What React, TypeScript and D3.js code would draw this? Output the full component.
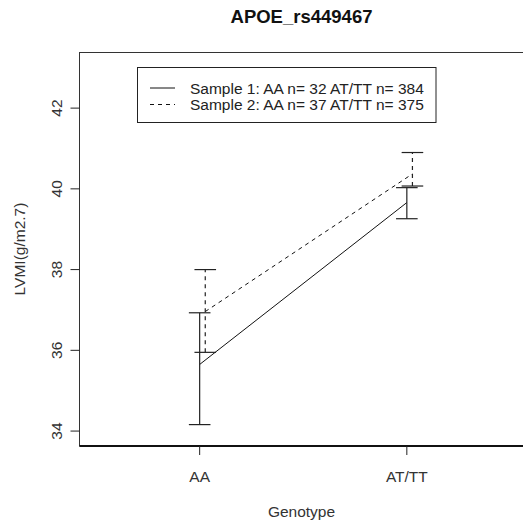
import React from "react";
import * as d3 from "d3";

const categories = ["AA", "AT/TT"];
const sample1Mean = [35.65, 39.66];
const sample1Lower = [34.16, 39.26];
const sample1Upper = [36.93, 40.03];
const sample2Mean = [36.96, 40.37];
const sample2Lower = [35.95, 40.07];
const sample2Upper = [38.0, 40.9];
const yTicks = [34, 36, 38, 40, 42];
const legendLabels = [
  "Sample 1: AA n= 32 AT/TT n= 384",
  "Sample 2: AA n= 37 AT/TT n= 375",
];
const title = "APOE_rs449467";
const xTitle = "Genotype";
const yTitle = "LVMI(g/m2.7)";

const W = 523;
const H = 525;
const FONT = "'Liberation Sans', Arial, sans-serif";
const FS = 15.5;

export default function App() {
  const x = d3.scaleLinear().domain([0.42, 2.58]).range([79.5, 527]);
  const y = d3.scaleLinear().domain([33.63, 43.39]).range([446, 52]);
  const plotL = 79.5, plotT = 52.5, plotB = 446, plotR = 527;
  const capHalf = 10.8;
  const offset2 = 0.027;

  const series = [
    { mean: sample1Mean, lo: sample1Lower, hi: sample1Upper, dx: 0, dash: undefined as string | undefined },
    { mean: sample2Mean, lo: sample2Lower, hi: sample2Upper, dx: offset2, dash: "4,4" },
  ];
  const line = d3.line<number>().x((_, i) => x(i + 1 + 0)).y((d) => y(d));

  return (
    <svg width={W} height={H} style={{ position: "absolute", left: 0, top: 0, background: "#fff" }}>
      <rect x={0} y={0} width={W} height={H} fill="#fff" />
      <text x={301.5} y={23} textAnchor="middle" fontFamily={FONT} fontWeight="bold" fontSize={18.5} fill="#111">
        {title}
      </text>
      {/* plot box */}
      <rect x={plotL} y={plotT} width={plotR - plotL} height={plotB - plotT} fill="none" stroke="#333" strokeWidth={1} />
      <line x1={plotL} x2={plotR} y1={plotB} y2={plotB} stroke="#111" strokeWidth={2} />
      {/* y axis */}
      {yTicks.map((t) => (
        <g key={t}>
          <line x1={plotL - 9} x2={plotL} y1={y(t)} y2={y(t)} stroke="#222" />
          <text
            transform={`translate(62,${y(t)}) rotate(-90)`}
            textAnchor="middle"
            fontFamily={FONT}
            fontSize={FS}
            fill="#333"
          >
            {t}
          </text>
        </g>
      ))}
      {/* x axis */}
      {categories.map((c, i) => (
        <g key={c}>
          <line x1={x(i + 1)} x2={x(i + 1)} y1={plotB} y2={plotB + 9} stroke="#222" />
          <text x={x(i + 1)} y={482} textAnchor="middle" fontFamily={FONT} fontSize={FS} fill="#333">
            {c}
          </text>
        </g>
      ))}
      <text x={301.5} y={517} textAnchor="middle" fontFamily={FONT} fontSize={FS} fill="#333">
        {xTitle}
      </text>
      <text transform={`translate(25,249) rotate(-90)`} textAnchor="middle" fontFamily={FONT} fontSize={FS} fill="#333">
        {yTitle}
      </text>
      {/* series */}
      {series.map((s, si) => (
        <g key={si}>
          <path
            d={d3
              .line<number>()
              .x((_, i) => x(i + 1 + s.dx))
              .y((d) => y(d))(s.mean) || ""}
            fill="none"
            stroke="#111"
            strokeWidth={1}
            strokeDasharray={s.dash}
          />
          {s.mean.map((_, i) => {
            const cx = x(i + 1 + s.dx);
            return (
              <g key={i}>
                <line x1={cx} x2={cx} y1={y(s.lo[i])} y2={y(s.hi[i])} stroke="#222" strokeWidth={1.2} strokeDasharray={s.dash} />
                <line x1={cx - capHalf} x2={cx + capHalf} y1={y(s.hi[i])} y2={y(s.hi[i])} stroke="#222" strokeWidth={1.2} />
                <line x1={cx - capHalf} x2={cx + capHalf} y1={y(s.lo[i])} y2={y(s.lo[i])} stroke="#222" strokeWidth={1.2} />
              </g>
            );
          })}
        </g>
      ))}
      {/* legend */}
      <rect x={137.5} y={67.5} width={298.5} height={55} fill="#fff" stroke="#222" strokeWidth={1} />
      {legendLabels.map((l, i) => (
        <g key={l}>
          <line
            x1={150}
            x2={175}
            y1={88 + i * 16.5}
            y2={88 + i * 16.5}
            stroke="#111"
            strokeDasharray={series[i].dash}
          />
          <text x={190} y={88 + i * 16.5} dy="0.36em" fontFamily={FONT} fontSize={FS} fill="#222">
            {l}
          </text>
        </g>
      ))}
    </svg>
  );
}
